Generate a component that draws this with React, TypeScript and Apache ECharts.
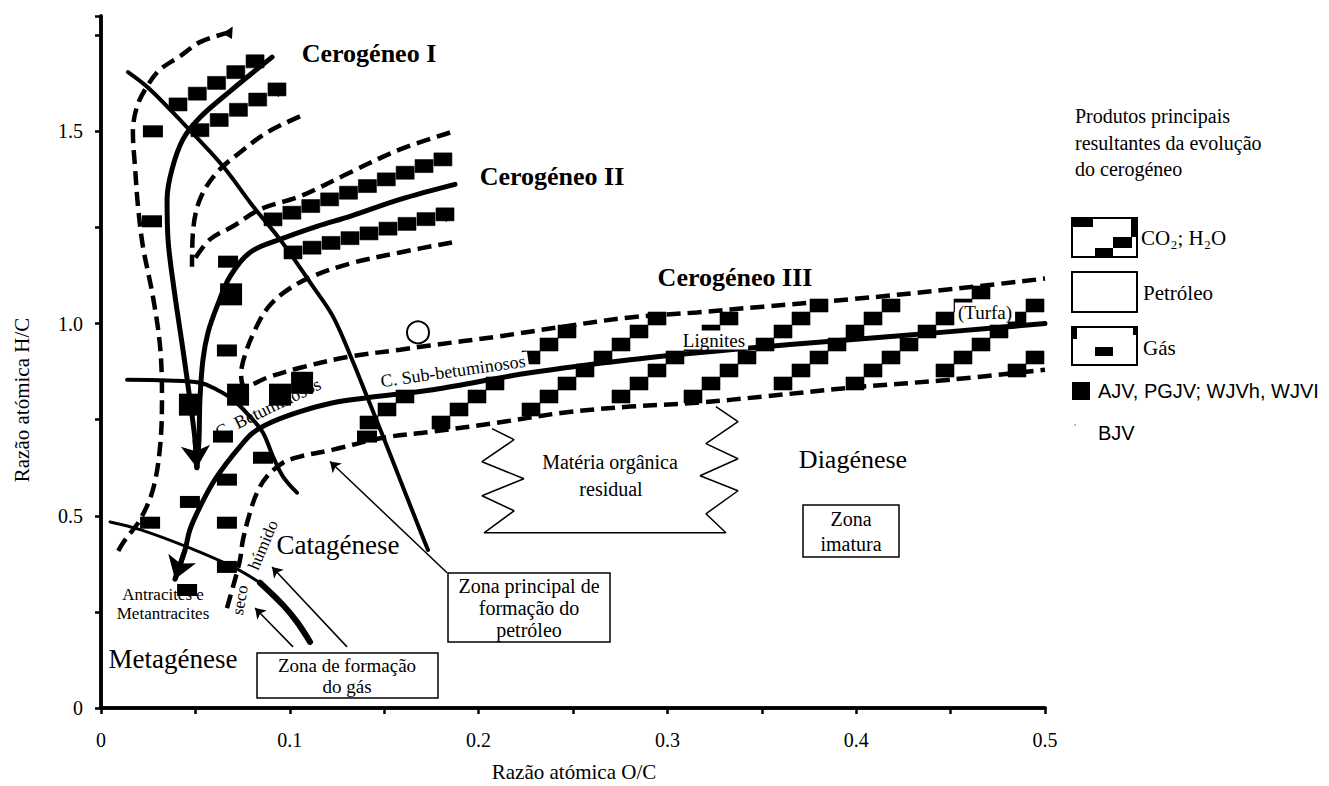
import React, { useEffect, useRef } from 'react';
import * as echarts from 'echarts';

// ---------- tick labels ----------
const X_TICK_LABELS = ['0', '0.1', '0.2', '0.3', '0.4', '0.5'];
const Y_TICK_LABELS = ['0', '0.5', '1.0', '1.5'];

// ---------- curves (O/C, H/C) ----------
const TYPE_I_SOLID: number[][] = [
  [0.0906, 1.693], [0.0683, 1.604], [0.0524, 1.536], [0.0434, 1.479], [0.0376, 1.401],
  [0.035, 1.323], [0.0355, 1.219], [0.0387, 1.089], [0.0434, 0.932], [0.0471, 0.802],
  [0.0498, 0.698], [0.0508, 0.625],
];
const TYPE_II_SOLID: number[][] = [
  [0.1875, 1.362], [0.1584, 1.323], [0.1319, 1.279], [0.1144, 1.253], [0.0948, 1.219],
  [0.0789, 1.185], [0.0683, 1.122], [0.0614, 1.044], [0.0567, 0.977], [0.054, 0.906],
  [0.0524, 0.802], [0.0519, 0.698], [0.0508, 0.625],
];
const TYPE_III_SOLID: number[][] = [
  [0.5, 1.0], [0.4497, 0.979], [0.3967, 0.958], [0.3331, 0.932], [0.2802, 0.906],
  [0.2272, 0.872], [0.1758, 0.828], [0.1409, 0.807], [0.1229, 0.794], [0.1054, 0.771],
  [0.0911, 0.745], [0.0805, 0.716], [0.0736, 0.68], [0.0667, 0.638], [0.0593, 0.586],
  [0.0524, 0.523], [0.0471, 0.464], [0.0445, 0.411], [0.0392, 0.335],
];
const TYPE_I_OUTER_DASHED: number[][] = [
  [0.0683, 1.758], [0.0524, 1.732], [0.0418, 1.695], [0.0313, 1.661], [0.0244, 1.617],
  [0.0191, 1.565], [0.0169, 1.497], [0.018, 1.409], [0.0196, 1.305], [0.0222, 1.201],
  [0.0275, 1.07], [0.0313, 0.94], [0.0323, 0.81], [0.0313, 0.68], [0.0275, 0.568],
  [0.0207, 0.49], [0.0117, 0.43], [0.0074, 0.393],
];
const TYPE_I_INNER_DASHED: number[][] = [
  [0.1054, 1.539], [0.0879, 1.497], [0.0736, 1.445], [0.0614, 1.393], [0.0524, 1.323],
  [0.0487, 1.237], [0.0482, 1.148],
];
const TYPE_II_UPPER_DASHED: number[][] = [
  [0.1849, 1.497], [0.1584, 1.453], [0.1319, 1.393], [0.1054, 1.331], [0.0842, 1.297],
  [0.0699, 1.253], [0.0577, 1.219], [0.0487, 1.161],
];
const TYPE_II_LOWER_III_UPPER_DASHED: number[][] = [
  [0.1859, 1.211], [0.1584, 1.185], [0.1319, 1.156], [0.1107, 1.12], [0.0975, 1.083],
  [0.0885, 1.042], [0.0816, 0.984], [0.0763, 0.919], [0.0742, 0.867], [0.0763, 0.836],
  [0.0879, 0.859], [0.1054, 0.885], [0.1319, 0.914], [0.1584, 0.932], [0.1743, 0.943],
  [0.2097, 0.966], [0.2447, 0.992], [0.2802, 1.016], [0.3157, 1.029], [0.3506, 1.044],
  [0.3967, 1.063], [0.4497, 1.089], [0.5, 1.117],
];
const TYPE_III_LOWER_DASHED: number[][] = [
  [0.0667, 0.26], [0.0699, 0.315], [0.0736, 0.385], [0.0752, 0.4375], [0.0789, 0.508],
  [0.0826, 0.56], [0.0879, 0.602], [0.0964, 0.638], [0.1054, 0.654], [0.1229, 0.672],
  [0.1494, 0.703], [0.1758, 0.719], [0.2097, 0.742], [0.2447, 0.768], [0.2802, 0.784],
  [0.3157, 0.794], [0.3506, 0.81], [0.3967, 0.833], [0.4497, 0.854], [0.5, 0.88],
];
const OIL_ZONE_LINE: number[][] = [
  [0.0143, 1.654], [0.026, 1.609], [0.0456, 1.51], [0.0646, 1.409], [0.0805, 1.305],
  [0.0948, 1.219], [0.1123, 1.096], [0.1229, 1.018], [0.1319, 0.919], [0.1409, 0.81],
  [0.1494, 0.706], [0.1584, 0.594], [0.1674, 0.482], [0.1732, 0.411],
];
const CATAGENESIS_LINE: number[][] = [
  [0.0138, 0.854], [0.035, 0.852], [0.0524, 0.846], [0.0614, 0.828], [0.0699, 0.802],
  [0.0789, 0.758], [0.0858, 0.716], [0.0911, 0.654], [0.0964, 0.602], [0.1038, 0.56],
];
const METAGENESIS_LINE: number[][] = [
  [0.0048, 0.484], [0.0207, 0.464], [0.0456, 0.419], [0.0699, 0.367], [0.0842, 0.326],
];
const METAGENESIS_LINE_THICK: number[][] = [
  [0.0842, 0.326], [0.0964, 0.268], [0.1038, 0.224], [0.1107, 0.172],
];
const RESIDUAL_ZIGZAG: number[][] = [
  [0.2071, 0.7266], [0.2188, 0.6979], [0.2018, 0.6406], [0.224, 0.5964], [0.2018, 0.5521],
  [0.2188, 0.513], [0.2029, 0.4557], [0.331, 0.4557], [0.3204, 0.5052], [0.3374, 0.5651],
  [0.3173, 0.6042], [0.3374, 0.6484], [0.3204, 0.6875], [0.3374, 0.7448], [0.3257, 0.7839],
];
const ANNOTATION_ARROWS: number[][][] = [
  [[0.1833, 0.352], [0.1213, 0.641]],
  [[0.1303, 0.159], [0.0906, 0.367]],
  [[0.1017, 0.159], [0.0816, 0.26]],
];
const GAS_BLOCKS: number[][] = [
  [0.0275, 1.5], [0.027, 1.266], [0.0673, 1.161], [0.0667, 0.93], [0.0646, 0.706],
  [0.0858, 0.651], [0.0667, 0.594], [0.0471, 0.536], [0.0667, 0.482], [0.026, 0.482],
  [0.0667, 0.367], [0.0456, 0.307], [0.1409, 0.706],
];
const GAS_BLOCKS_LARGE: number[][] = [
  [0.0689, 1.076], [0.0726, 0.815], [0.0948, 0.815], [0.1065, 0.846], [0.0471, 0.789],
];
const OPEN_CIRCLE: number[][] = [[0.1679, 0.977]];
const BAND_END_TRIANGLES: number[][] = [[0.0932, 1.609], [0.1822, 1.284], [0.0683, 1.76]];

// ---------- CO2/H2O squares ----------
// staircase strips (centre lines) for kerogens I and II
const CO2_STRIPS: number[][][] = [
  [[0.0408, 1.57], [0.0816, 1.682]],
  [[0.0524, 1.503], [0.0932, 1.609]],
  [[0.0911, 1.271], [0.1811, 1.427]],
  [[0.1017, 1.185], [0.1822, 1.284]],
];
// kerogen III checker regions
const TYPE_III_UPPER_BAND: number[][] = [
  [0.22, 0.975], [0.2447, 0.992], [0.2802, 1.016], [0.3157, 1.029], [0.3506, 1.044],
  [0.3967, 1.063], [0.4497, 1.089], [0.5, 1.117], [0.5, 1.0], [0.4497, 0.979],
  [0.3967, 0.958], [0.3331, 0.932], [0.2802, 0.906], [0.22, 0.868],
];
const TYPE_III_LOWER_BAND: number[][] = [
  [0.14, 0.807], [0.1758, 0.828], [0.2272, 0.872], [0.2802, 0.906], [0.3331, 0.932],
  [0.3967, 0.958], [0.4497, 0.979], [0.5, 1.0], [0.5, 0.88], [0.4497, 0.854],
  [0.3967, 0.833], [0.3506, 0.81], [0.3157, 0.794], [0.2802, 0.784], [0.2447, 0.768],
  [0.2097, 0.742], [0.1758, 0.719], [0.14, 0.7],
];
const CHECKER_BANDS = [TYPE_III_UPPER_BAND, TYPE_III_LOWER_BAND];

const SERIF = '"Liberation Serif", "Times New Roman", serif';
const SANS = '"Liberation Sans", Arial, sans-serif';

function pointInPoly(pt: number[], poly: number[][]) {
  let inside = false;
  for (let i = 0, j = poly.length - 1; i < poly.length; j = i++) {
    const xi = poly[i][0], yi = poly[i][1], xj = poly[j][0], yj = poly[j][1];
    if ((yi > pt[1]) !== (yj > pt[1]) && pt[0] < ((xj - xi) * (pt[1] - yi)) / (yj - yi) + xi) inside = !inside;
  }
  return inside;
}

function txt(text: string, x: number, y: number, size: number, o: any = {}) {
  return {
    type: 'text', x, y, rotation: o.rot || 0, z: 100,
    style: {
      text, fill: '#000', fontSize: size, fontFamily: o.family || SERIF,
      fontWeight: o.bold ? 'bold' : 'normal',
      textAlign: o.align || 'center', align: o.align || 'center',
      textVerticalAlign: 'middle', verticalAlign: 'middle',
      backgroundColor: o.bg || 'transparent', padding: o.bg ? [0, 3] : 0,
    },
  };
}
function box(x: number, y: number, w: number, h: number, lw = 1.5) {
  return { type: 'rect', z: 90, shape: { x, y, width: w, height: h }, style: { fill: '#fff', stroke: '#000', lineWidth: lw } };
}
function blk(x: number, y: number, w: number, h: number, fill = '#000') {
  return { type: 'rect', z: 95, shape: { x, y, width: w, height: h }, style: { fill } };
}
const SQUARE_STYLE = { fill: '#000', stroke: '#000', lineWidth: 0.6 };

function solid(data: number[][], width = 5) {
  return {
    type: 'line', data, smooth: 0.35, symbol: 'none', silent: true, z: 5,
    lineStyle: { color: '#000', width, cap: 'round', join: 'round' },
  };
}
function dashed(data: number[][]) {
  return {
    type: 'line', data, smooth: 0.35, symbol: 'none', silent: true, z: 5,
    lineStyle: { color: '#000', width: 4.5, type: [14, 7], cap: 'butt' },
  };
}
function lastSeg(d: number[][]) {
  return [d[d.length - 2], d[d.length - 1]];
}

export default function App() {
  const ref = useRef<HTMLDivElement>(null);
  useEffect(() => {
    const chart = echarts.init(ref.current!, undefined, { renderer: 'svg' });
    const CW = 18, CH = 13, K = 4;
    const frameAxis = { show: true, lineStyle: { color: '#000', width: 3.5 } };
    const option: any = {
      animation: false,
      backgroundColor: '#fff',
      grid: { left: 101, top: 16, right: 284, bottom: 78, show: false },
      xAxis: [
        {
          type: 'value', min: 0, max: 0.5, interval: 0.05,
          splitLine: { show: false },
          axisLine: frameAxis,
          axisTick: { length: 6, lineStyle: { color: '#000', width: 2.5 } },
          axisLabel: {
            margin: 22, color: '#000', fontSize: 20, fontFamily: SERIF,
            formatter: (v: number) => {
              const k = Math.round(v * 20);
              return k % 2 === 0 ? X_TICK_LABELS[k / 2] ?? '' : '';
            },
          },
        },
        {
          type: 'value', min: 0, max: 0.5, position: 'top',
          splitLine: { show: false }, axisLine: frameAxis,
          axisTick: { show: false }, axisLabel: { show: false },
        },
      ],
      yAxis: [
        {
          type: 'value', min: 0, max: 1.8, interval: 0.25,
          splitLine: { show: false },
          axisLine: frameAxis,
          axisTick: { length: 6, lineStyle: { color: '#000', width: 2.5 } },
          axisLabel: {
            margin: 18, color: '#000', fontSize: 20, fontFamily: SERIF,
            formatter: (v: number) => {
              const k = Math.round(v * 4);
              if (Math.abs(v * 4 - k) > 1e-6 || k % 2 !== 0) return '';
              return Y_TICK_LABELS[k / 2] ?? '';
            },
          },
        },
        {
          type: 'value', min: 0, max: 1.8, position: 'right',
          splitLine: { show: false }, axisLine: frameAxis,
          axisTick: { show: false }, axisLabel: { show: false },
        },
      ],
      series: [
        {
          type: 'custom', silent: true, z: 2, clip: false,
          data: CHECKER_BANDS.map((b) => b[0]),
          encode: { x: 0, y: 1 },
          renderItem: (params: any, api: any) => {
            const poly = CHECKER_BANDS[params.dataIndex].map((p) => api.coord(p));
            const xs = poly.map((p: number[]) => p[0]);
            const ys = poly.map((p: number[]) => p[1]);
            const minX = Math.min(...xs), maxX = Math.max(...xs);
            const minY = Math.min(...ys), maxY = Math.max(...ys);
            const children: any[] = [];
            for (let i = Math.floor(minX / CW); i * CW < maxX; i++) {
              for (let j = Math.floor(minY / CH); j * CH < maxY; j++) {
                if ((((i + j) % K) + K) % K !== 0) continue;
                const c = [i * CW + CW / 2, j * CH + CH / 2];
                if (!pointInPoly(c, poly)) continue;
                children.push({ type: 'rect', shape: { x: i * CW, y: j * CH, width: CW, height: CH }, style: SQUARE_STYLE });
              }
            }
            return { type: 'group', children };
          },
        },
        {
          type: 'custom', silent: true, z: 2, clip: false,
          data: CO2_STRIPS.map((s) => s[0]),
          encode: { x: 0, y: 1 },
          renderItem: (params: any, api: any) => {
            const s = CO2_STRIPS[params.dataIndex];
            const a = api.coord(s[0]);
            const b = api.coord(s[1]);
            const n = Math.max(1, Math.round((b[0] - a[0]) / CW));
            const children: any[] = [];
            for (let k = 0; k <= n; k++) {
              const t = k / n;
              const x = a[0] + (b[0] - a[0]) * t;
              const y = a[1] + (b[1] - a[1]) * t;
              children.push({ type: 'rect', shape: { x: x - CW / 2, y: y - CH / 2, width: CW, height: CH }, style: SQUARE_STYLE });
            }
            return { type: 'group', children };
          },
        },
        solid(TYPE_I_SOLID),
        solid(TYPE_II_SOLID),
        solid(TYPE_III_SOLID),
        dashed(TYPE_I_OUTER_DASHED),
        dashed(TYPE_I_INNER_DASHED),
        dashed(TYPE_II_UPPER_DASHED),
        dashed(TYPE_II_LOWER_III_UPPER_DASHED),
        dashed(TYPE_III_LOWER_DASHED),
        solid(OIL_ZONE_LINE, 4),
        solid(CATAGENESIS_LINE, 4),
        solid(METAGENESIS_LINE, 3),
        solid(METAGENESIS_LINE_THICK, 6),
        {
          type: 'line', data: RESIDUAL_ZIGZAG, symbol: 'none', silent: true, z: 5,
          lineStyle: { color: '#000', width: 1.5 },
        },
        {
          type: 'lines', coordinateSystem: 'cartesian2d', silent: true, z: 6,
          data: [{ coords: lastSeg(TYPE_I_SOLID) }, { coords: lastSeg(TYPE_III_SOLID) }],
          symbol: ['none', 'arrow'], symbolSize: 22,
          lineStyle: { color: '#000', width: 5, opacity: 1 },
          itemStyle: { color: '#000' },
        },
        {
          type: 'lines', coordinateSystem: 'cartesian2d', silent: true, z: 6,
          data: ANNOTATION_ARROWS.map((a) => ({ coords: a })),
          symbol: ['none', 'arrow'], symbolSize: 10,
          lineStyle: { color: '#000', width: 1.5, opacity: 1 },
          itemStyle: { color: '#000' },
        },
        {
          type: 'scatter', data: GAS_BLOCKS, symbol: 'rect', symbolSize: [20, 12], silent: true, z: 7,
          itemStyle: { color: '#000', opacity: 1 },
        },
        {
          type: 'scatter', data: GAS_BLOCKS_LARGE, symbol: 'rect', symbolSize: [22, 22], silent: true, z: 7,
          itemStyle: { color: '#000', opacity: 1 },
        },
        {
          type: 'scatter', data: BAND_END_TRIANGLES, symbol: 'triangle', symbolSize: 11, symbolRotate: -30, silent: true, z: 7,
          itemStyle: { color: '#000', opacity: 1 },
        },
        {
          type: 'scatter', data: OPEN_CIRCLE, symbol: 'circle', symbolSize: 22, silent: true, z: 8,
          itemStyle: { color: '#fff', borderColor: '#000', borderWidth: 2, opacity: 1 },
        },
      ],
      graphic: [
        // axis titles
        txt('Razão atómica H/C', 22, 400, 21, { rot: Math.PI / 2 }),
        txt('Razão atómica O/C', 574, 772, 21),
        // kerogen labels
        txt('Cerogéneo I', 369, 53, 26, { bold: true }),
        txt('Cerogéneo II', 552, 176, 26, { bold: true }),
        txt('Cerogéneo III', 735, 277, 26, { bold: true }),
        txt('Lignites', 714, 340, 19, { bg: '#fff' }),
        txt('(Turfa)', 985, 312, 19, { bg: '#fff' }),
        txt('C. Sub-betuminosos', 453, 371, 18, { rot: 0.14, bg: '#fff' }),
        txt('C. Betuminosos', 268, 408, 18, { rot: 0.45 }),
        txt('Catagénese', 338, 545, 27),
        txt('Metagénese', 173, 659, 27),
        txt('Diagénese', 853, 459, 26),
        txt('Antracites e', 163, 594, 17),
        txt('Metantracites', 163, 613, 17),
        txt('seco', 240, 600, 17, { rot: 1.4 }),
        txt('húmido', 263, 545, 17, { rot: 1.17 }),
        txt('Matéria orgânica', 610, 462, 20),
        txt('residual', 611, 489, 20),
        // boxes
        box(803, 505, 96, 52),
        txt('Zona', 851, 519, 20),
        txt('imatura', 851, 544, 20),
        box(448, 573, 162, 69),
        txt('Zona principal de', 529, 586, 20),
        txt('formação do', 529, 608, 20),
        txt('petróleo', 529, 630, 20),
        box(257, 653, 181, 45),
        txt('Zona de formação', 347, 665, 19),
        txt('do gás', 347, 686, 19),
        // legend
        txt('Produtos principais', 1075, 116, 20, { align: 'left' }),
        txt('resultantes da evolução', 1075, 143, 20, { align: 'left' }),
        txt('do cerogéneo', 1075, 169, 20, { align: 'left' }),
        box(1072, 218, 65, 39, 2),
        blk(1073, 219, 20, 8), blk(1131, 219, 6, 18), blk(1113, 237, 19, 11), blk(1095, 248, 18, 9),
        txt('CO₂; H₂O', 1141, 238, 21, { align: 'left' }),
        box(1072, 272, 65, 40, 2),
        txt('Petróleo', 1143, 293, 21, { align: 'left' }),
        box(1072, 327, 65, 38, 2),
        blk(1073, 327, 4, 12), blk(1133, 327, 4, 8), blk(1095, 347, 18, 9),
        txt('Gás', 1143, 348, 21, { align: 'left' }),
        blk(1072, 382, 18, 18),
        txt('AJV, PGJV; WJVh, WJVI', 1098, 391, 20, { align: 'left', family: SANS }),
        blk(1074, 424, 2, 2, '#bbb'),
        txt('BJV', 1098, 433, 20, { align: 'left', family: SANS }),
      ],
    };
    chart.setOption(option);
    return () => chart.dispose();
  }, []);
  return (
    <div
      ref={ref}
      style={{ position: 'fixed', left: 0, top: 0, width: 1329, height: 786, background: '#fff' }}
    />
  );
}
